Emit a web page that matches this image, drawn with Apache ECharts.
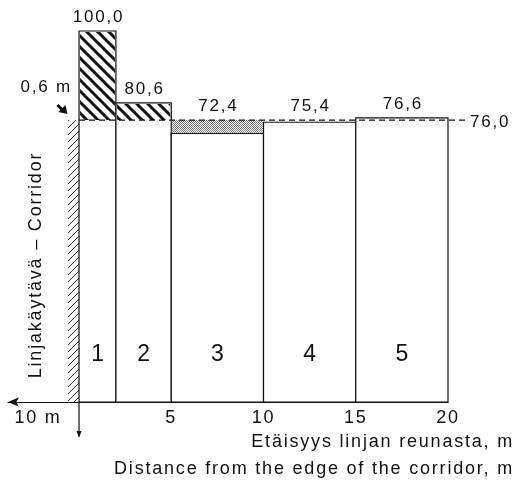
<!DOCTYPE html>
<html><head><meta charset="utf-8">
<script src="https://cdn.jsdelivr.net/npm/echarts@6/dist/echarts.min.js"></script>
<style>html,body{margin:0;padding:0;background:#fff}#c{width:515px;height:480px}</style>
</head><body><div id="c"></div>
<script>
// ---- data ----
const segStart = [0, 2, 5, 10, 15];
const segEnd = [2, 5, 10, 15, 20];
const values = [100.0, 80.6, 72.4, 75.4, 76.6];
const zoneNames = ['1', '2', '3', '4', '5'];
const referenceValue = 76.0;
const corridorWidth = 0.6;
const xTickValues = [5, 10, 15, 20];
const leftExtentLabel = '10 m';
const corridorLabel = '0,6 m';
const xTitleFi = 'Etäisyys linjan reunasta, m';
const xTitleEn = 'Distance from the edge of the corridor, m';
const yTitle = 'Linjakäytävä – Corridor';

// ---- styles ----
const FONT = '"Liberation Sans", Arial, sans-serif';
const INK = '#111';
const excessFill = ['hatch', 'hatch', 'dots', 'none', 'none'];
const fmt = v => v.toFixed(1).replace('.', ',');

// tracked (letter-spaced) lettering like the original print
(function () {
  const proto = CanvasRenderingContext2D.prototype;
  const orig = proto.fillText;
  proto.fillText = function (t, x, y, m) {
    if ('letterSpacing' in this) this.letterSpacing = '1.8px';
    return m === undefined ? orig.call(this, t, x, y) : orig.call(this, t, x, y, m);
  };
})();

function linePattern(size, lw, color, dir) {
  const c = document.createElement('canvas');
  c.width = c.height = size;
  const g = c.getContext('2d');
  g.strokeStyle = color; g.lineWidth = lw; g.lineCap = 'square';
  for (const o of [-size, 0, size]) {
    g.beginPath();
    if (dir === 'back') { g.moveTo(o, 0); g.lineTo(o + size, size); }
    else { g.moveTo(o, size); g.lineTo(o + size, 0); }
    g.stroke();
  }
  return { image: c, repeat: 'repeat' };
}
function dotPattern() {
  const c = document.createElement('canvas');
  c.width = c.height = 2;
  const g = c.getContext('2d');
  g.fillStyle = '#fff'; g.fillRect(0, 0, 2, 2);
  g.fillStyle = '#777'; g.fillRect(0, 0, 1, 1); g.fillRect(1, 1, 1, 1);
  return { image: c, repeat: 'repeat' };
}
const hatchBar = linePattern(11, 3, INK, 'back');
const hatchStrip = linePattern(7, 1, '#333', 'fwd');
const dots = dotPattern();

const chart = echarts.init(document.getElementById('c'), null, { renderer: 'canvas' });

const barData = segStart.map((s, i) => [s, segEnd[i], values[i], i]);

chart.setOption({
  animation: false,
  backgroundColor: '#fff',
  grid: { left: 8, right: 67, top: 31, bottom: 78 },
  xAxis: {
    type: 'value', min: -3.85, max: 20,
    axisLine: { show: true, symbol: ['arrow', 'none'], symbolSize: [7, 11], lineStyle: { color: INK, width: 1.2 } },
    axisTick: { show: false },
    splitLine: { show: false },
    axisLabel: { customValues: xTickValues, color: INK, fontFamily: FONT, fontSize: 18, margin: 7 }
  },
  yAxis: { type: 'value', min: 0, max: 100, show: false },
  series: [
    {
      type: 'custom', name: 'corridor', clip: false, z: 1,
      data: [[-corridorWidth, 0, referenceValue]],
      encode: { x: [0, 1], y: 2 },
      renderItem(params, api) {
        const a = api.coord([api.value(0), api.value(2)]);
        const b = api.coord([api.value(1), 0]);
        const tip = [a[0] - 0.5, a[1] - 6];
        return { type: 'group', children: [
          { type: 'rect', shape: { x: a[0], y: a[1], width: b[0] - a[0], height: b[1] - a[1] },
            style: { fill: hatchStrip, stroke: null } },
          { type: 'line', shape: { x1: b[0], y1: b[1], x2: b[0], y2: b[1] + 34 }, style: { stroke: INK, lineWidth: 1.2 } },
          { type: 'polygon', shape: { points: [[b[0] - 2.5, b[1] + 29], [b[0] + 2.5, b[1] + 29], [b[0], b[1] + 36]] }, style: { fill: INK } },
          { type: 'line', shape: { x1: tip[0] - 10, y1: tip[1] - 9, x2: tip[0] - 3, y2: tip[1] - 2 }, style: { stroke: INK, lineWidth: 3 } },
          { type: 'polygon', shape: { points: [[tip[0], tip[1]], [tip[0] - 9, tip[1] - 2], [tip[0] - 2, tip[1] - 9]] }, style: { fill: INK } },
          { type: 'text', x: a[0] + 4, y: a[1] - 33, style: { text: corridorLabel, fontFamily: FONT, fontSize: 17, fill: INK, align: 'right', verticalAlign: 'middle' } }
        ]};
      }
    },
    {
      type: 'custom', name: 'zones', clip: false, z: 2,
      data: barData,
      encode: { x: [0, 1], y: 2 },
      renderItem(params, api) {
        const s = api.value(0), e = api.value(1), v = api.value(2), i = api.value(3);
        const p0 = api.coord([s, 0]);
        const pv = api.coord([e, v]);
        const pr = api.coord([e, referenceValue]);
        const w = pv[0] - p0[0];
        const children = [
          { type: 'rect', shape: { x: p0[0], y: pv[1], width: w, height: p0[1] - pv[1] },
            style: { fill: '#fff', stroke: INK, lineWidth: 1.2 } }
        ];
        const mode = excessFill[i];
        if (mode === 'hatch' && v > referenceValue) {
          children.push({ type: 'rect', shape: { x: p0[0] + 1, y: pv[1] + 1, width: w - 2, height: pr[1] - pv[1] - 1 },
            style: { fill: hatchBar, stroke: null } });
        }
        if (mode === 'dots' && v < referenceValue) {
          children.push({ type: 'rect', shape: { x: p0[0] + 0.6, y: pr[1], width: w - 1.2, height: pv[1] - pr[1] - 0.6 },
            style: { fill: dots, stroke: null } });
        }
        const topY = Math.min(pv[1], pr[1]);
        children.push({ type: 'text', x: p0[0] + w / 2 + 1, y: topY - 14,
          style: { text: fmt(v), fontFamily: FONT, fontSize: 17, fill: INK, align: 'center', verticalAlign: 'middle' } });
        children.push({ type: 'text', x: p0[0] + w / 2 + 1, y: p0[1] - 47,
          style: { text: zoneNames[i], fontFamily: FONT, fontSize: 23, fill: INK, align: 'center', verticalAlign: 'middle' } });
        return { type: 'group', children };
      }
    },
    {
      type: 'custom', name: 'reference', clip: false, z: 3,
      data: [[0, 20, referenceValue]],
      encode: { x: [0, 1], y: 2 },
      renderItem(params, api) {
        const a = api.coord([api.value(0), api.value(2)]);
        const b = api.coord([api.value(1), api.value(2)]);
        return { type: 'group', children: [
          { type: 'line', shape: { x1: a[0], y1: a[1], x2: b[0] + 17, y2: b[1] },
            style: { stroke: INK, lineWidth: 1.2, lineDash: [6, 4] } },
          { type: 'text', x: b[0] + 22, y: b[1] + 2,
            style: { text: fmt(api.value(2)), fontFamily: FONT, fontSize: 17, fill: INK, align: 'left', verticalAlign: 'middle' } }
        ]};
      }
    }
  ],
  graphic: [
    { type: 'text', x: 36, y: 265, rotation: Math.PI / 2,
      style: { text: yTitle, fontFamily: FONT, fontSize: 18, fill: INK, align: 'center', verticalAlign: 'middle' } },
    { type: 'text', x: 38, y: 418,
      style: { text: leftExtentLabel, fontFamily: FONT, fontSize: 18, fill: INK, align: 'center', verticalAlign: 'middle' } },
    { type: 'text', x: 514, y: 442,
      style: { text: xTitleFi, fontFamily: FONT, fontSize: 18, fill: INK, align: 'right', verticalAlign: 'middle' } },
    { type: 'text', x: 514, y: 469,
      style: { text: xTitleEn, fontFamily: FONT, fontSize: 18, fill: INK, align: 'right', verticalAlign: 'middle' } }
  ]
});
</script></body></html>
